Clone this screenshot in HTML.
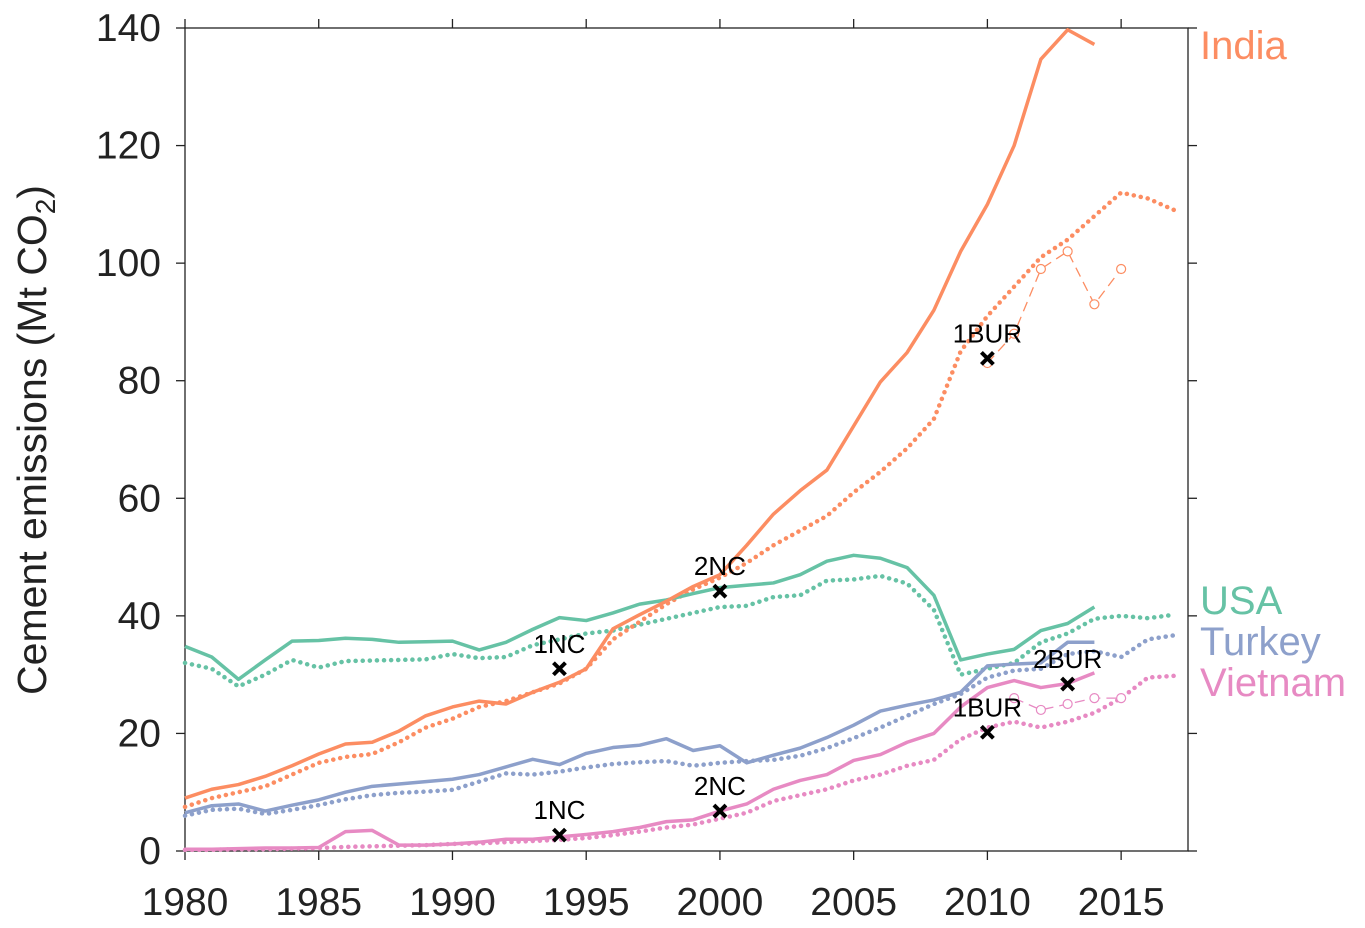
<!DOCTYPE html>
<html><head><meta charset="utf-8"><style>body{margin:0;background:#fff}svg{display:block;font-family:"Liberation Sans",sans-serif}</style></head>
<body>
<svg id="chart" width="1365" height="928" viewBox="0 0 1365 928"></svg>
<script>
const years = [];
for (let y = 1980; y <= 2017; y++) years.push(y);
const xTicks = [1980,1985,1990,1995,2000,2005,2010,2015];
const yTicks = [0,20,40,60,80,100,120,140];
const indiaSolid = [9,10.5,11.3,12.7,14.5,16.5,18.2,18.5,20.4,23,24.5,25.5,25,27,28.7,31,37.8,40.2,42.5,45,47,52,57.3,61.3,64.8,72.3,79.8,84.8,92,102,110,120,134.7,139.7,137.2];
const indiaDotted = [7.5,9,10,11,13,15,16,16.5,18.5,21,22.5,24.5,25.5,27,28.5,31,36,39,42,44.5,46.5,49,52,54.5,57,61,64.5,68.5,73.5,85,91,96,101,104,108,112,111,109];
const indiaReportYears = [2010,2011,2012,2013,2014,2015];
const indiaReport = [83,88,99,102,93,99];
const usaSolid = [34.8,33,29.2,32.5,35.7,35.8,36.2,36,35.5,35.6,35.7,34.2,35.5,37.7,39.7,39.2,40.5,42,42.7,43.8,44.8,45.2,45.6,47,49.3,50.3,49.8,48.2,43.5,32.5,33.5,34.3,37.5,38.7,41.5];
const usaDotted = [32,31,28,30,32.5,31.2,32.3,32.4,32.5,32.6,33.5,32.8,33,35,36,37,37.5,38.5,39.5,40.5,41.5,41.7,43.2,43.5,46,46.2,46.8,45.5,41,30,31,32,35.5,37,39.5,40,39.6,40.2];
const turkeySolid = [6.5,7.7,8,6.8,7.8,8.7,10,11,11.4,11.8,12.2,13,14.3,15.6,14.7,16.6,17.6,18,19.1,17.1,17.9,15,16.3,17.5,19.3,21.4,23.8,24.8,25.7,27,31.5,31.8,32,35.5,35.5];
const turkeyDotted = [6,7,7.2,6.3,7,7.8,8.8,9.5,9.9,10.1,10.4,11.8,13.2,13,13.5,14.2,14.8,15.1,15.3,14.5,15,15.3,15.5,16.2,17.5,19.2,21,23,25,26.7,29.5,30.7,31,33.5,34,33,36,36.7];
const vietSolid = [0.3,0.3,0.4,0.5,0.5,0.6,3.3,3.5,1,1,1.2,1.5,2,2,2.4,2.8,3.3,4,5,5.3,6.8,8,10.5,12,13,15.4,16.4,18.5,20,24.5,27.8,29,27.8,28.5,30.3];
const vietDotted = [0.2,0.2,0.3,0.3,0.4,0.5,0.7,0.8,0.9,1,1.2,1.3,1.5,1.7,1.9,2.2,2.7,3.3,4,4.5,5.5,6.5,8.5,9.5,10.5,12,13,14.5,15.5,19,21,22,21,22,23.5,26,29.5,29.8];
const vietReportYears = [2011,2012,2013,2014,2015];
const vietReport = [26,24,25,26,26];
const markLabels = ["1NC","2NC","1BUR","1NC","2NC","1BUR","2BUR"];
const markYears = [1994,2000,2010,1994,2000,2010,2013];
const markValues = [31,44.2,83.8,2.7,6.8,20.2,28.4];

const X0=185,X1=1188,Y0=851,Y1=28;
const x=v=>X0+(v-1980)*(X1-X0)/37.5;
const y=v=>Y0-v*(Y0-Y1)/140;
const svg=document.getElementById('chart');
const NS='http://www.w3.org/2000/svg';
function mk(tag,attrs,parent){const e=document.createElementNS(NS,tag);for(const k in attrs)e.setAttribute(k,attrs[k]);(parent||svg).appendChild(e);return e;}
function line(xs,vals,color,dash,width,name,cap){
  const p=mk('polyline',{points:vals.map((v,i)=>x(xs[i])+','+y(v)).join(' '),fill:'none',stroke:color,'stroke-width':width,'stroke-dasharray':dash,'stroke-linejoin':'round','stroke-linecap':cap||'butt'});
  
  
  return p;
}
const C={india:'#fc8d62',usa:'#66c2a5',turkey:'#8da0cb',viet:'#e78ac3'};
const box=mk('rect',{x:X0,y:Y1,width:X1-X0,height:Y0-Y1,fill:'none',stroke:'#222','stroke-width':1.3});


xTicks.forEach(t=>{
  mk('line',{x1:x(t),x2:x(t),y1:Y0,y2:Y0+9,stroke:'#222','stroke-width':1.3});
  mk('line',{x1:x(t),x2:x(t),y1:Y1,y2:Y1-9,stroke:'#222','stroke-width':1.3});
  const tx=mk('text',{x:x(t),y:915,'text-anchor':'middle','font-size':39,fill:'#222'});tx.textContent=t;
  
  
});
yTicks.forEach(t=>{
  mk('line',{x1:X0-9,x2:X0,y1:y(t),y2:y(t),stroke:'#222','stroke-width':1.3});
  mk('line',{x1:X1,x2:X1+9,y1:y(t),y2:y(t),stroke:'#222','stroke-width':1.3});
  const tx=mk('text',{x:161,y:y(t)+13,'text-anchor':'end','font-size':39,fill:'#222'});tx.textContent=t;
  
  
});
const yt=mk('text',{transform:'translate(46,440) rotate(-90)','text-anchor':'middle','font-size':41,fill:'#222'});
yt.innerHTML='Cement emissions (Mt CO<tspan font-size="28" dy="9">2</tspan><tspan dy="-9">)</tspan>';



line(years,usaDotted,C.usa,'0.1 7',4.5,'usa-dotted','round');
line(years,turkeyDotted,C.turkey,'0.1 7',4.5,'turkey-dotted','round');
line(years,vietDotted,C.viet,'0.1 7',4.5,'vietnam-dotted','round');
line(years,indiaDotted,C.india,'0.1 7',4.5,'india-dotted','round');
line(years,usaSolid,C.usa,'',3.5,'usa-solid');
line(years,turkeySolid,C.turkey,'',3.5,'turkey-solid');
line(years,vietSolid,C.viet,'',3.5,'vietnam-solid');
line(years,indiaSolid,C.india,'',3.5,'india-solid');
line(indiaReportYears,indiaReport,C.india,'10 6',1.3,'india-reported');
line(vietReportYears,vietReport,C.viet,'10 6',1.3,'vietnam-reported');
indiaReport.forEach((v,i)=>{const c=mk('circle',{cx:x(indiaReportYears[i]),cy:y(v),r:4.5,fill:'#fff',stroke:C.india,'stroke-width':1.2});
  });
vietReport.forEach((v,i)=>{const c=mk('circle',{cx:x(vietReportYears[i]),cy:y(v),r:4.5,fill:'#fff',stroke:C.viet,'stroke-width':1.2});
  });
markLabels.forEach((l,i)=>{
  const cx=x(markYears[i]),cy=y(markValues[i]);
  const g=mk('g',{});
  
  
  mk('path',{d:`M${cx-6},${cy-6}L${cx+6},${cy+6}M${cx-6},${cy+6}L${cx+6},${cy-6}`,stroke:'#000','stroke-width':4});
  const t=mk('text',{x:cx,y:cy-16,'text-anchor':'middle','font-size':26,fill:'#000'},g);t.textContent=l;
});
[['India',46,C.india],['USA',601,C.usa],['Turkey',642,C.turkey],['Vietnam',683,C.viet]].forEach(([n,yy,c])=>{
  const t=mk('text',{x:1200,y:yy+13,'font-size':40,fill:c});t.textContent=n;
  
  
});
</script>
</body></html>
